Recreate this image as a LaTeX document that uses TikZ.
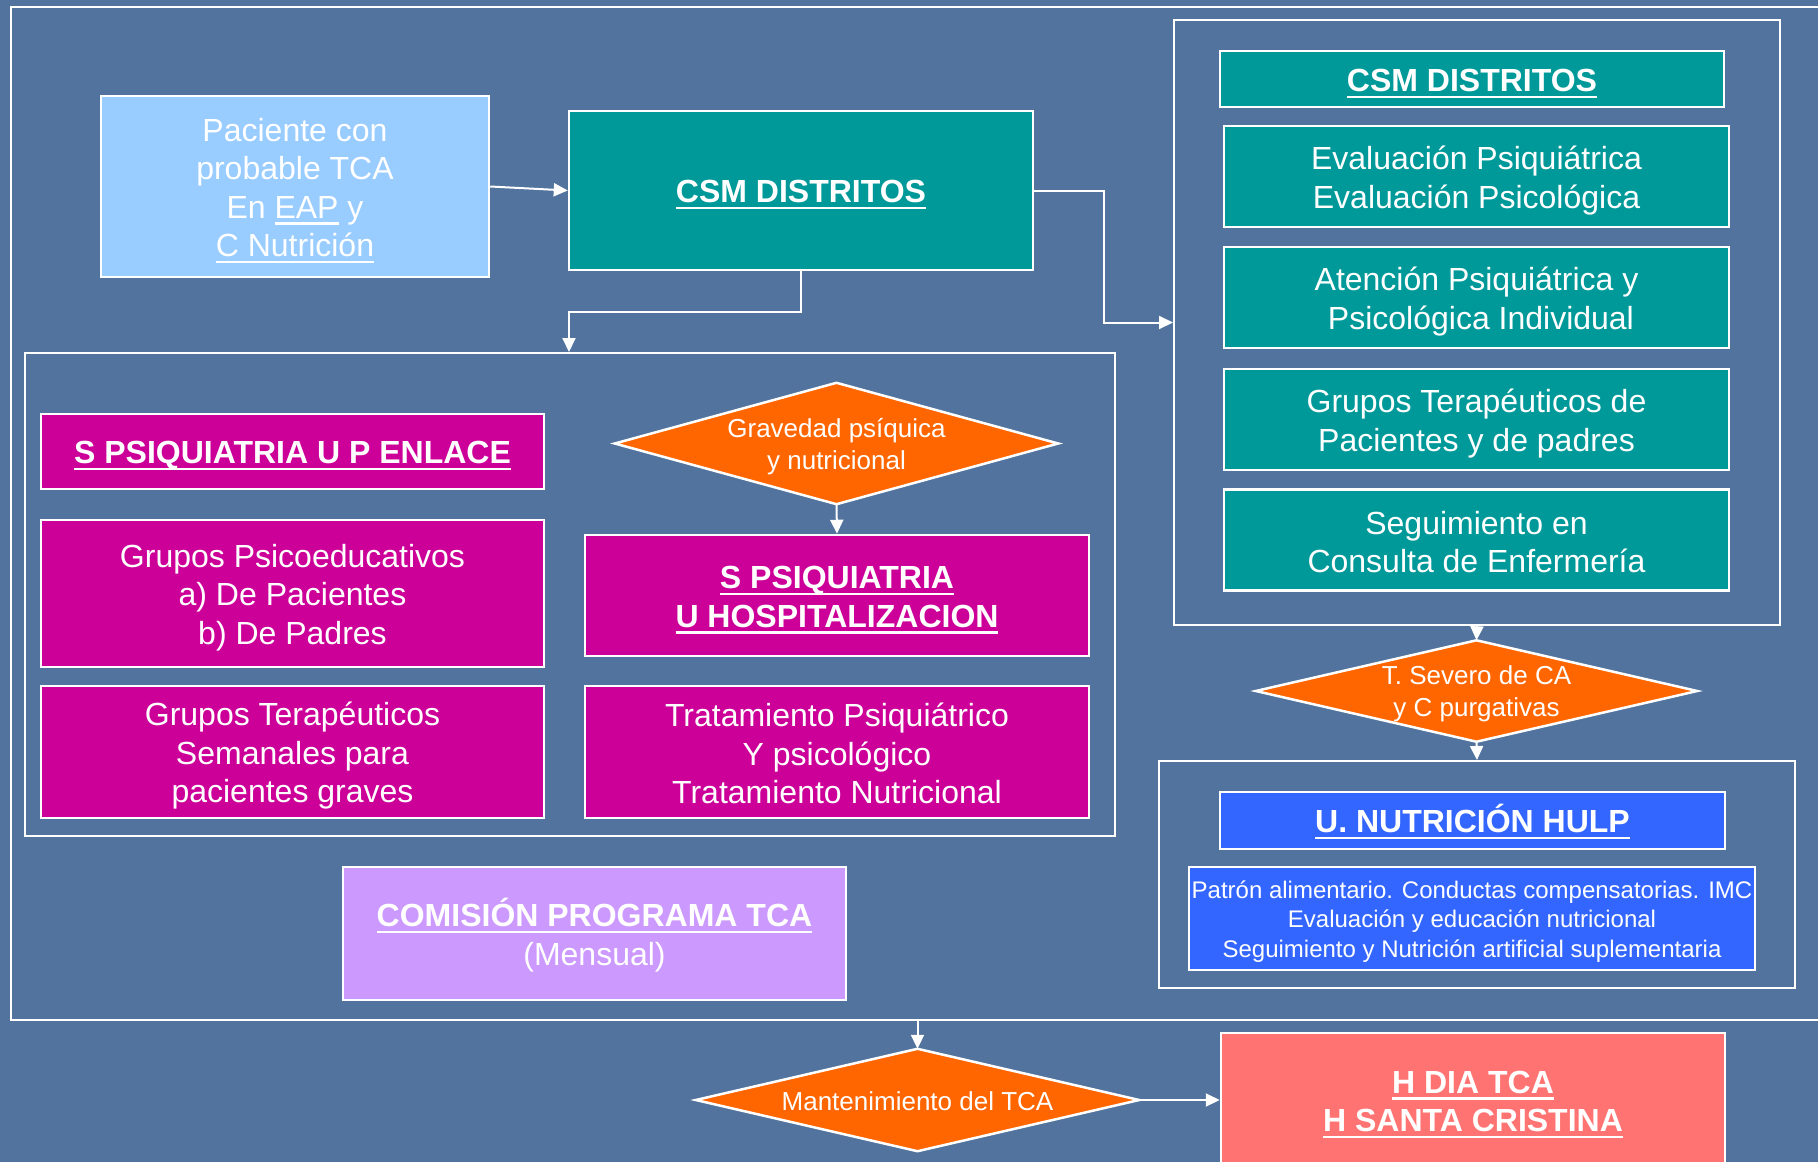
\documentclass[tikz,border=0pt]{standalone}
\usepackage{fontspec}
\setmainfont{Liberation Sans}
\usetikzlibrary{arrows.meta,calc}
\definecolor{bg}{RGB}{81,115,157}
\definecolor{teal1}{HTML}{009999}
\definecolor{mag}{HTML}{CC0099}
\definecolor{orng}{HTML}{FF6600}
\definecolor{lblue}{HTML}{99CCFF}
\definecolor{lilac}{HTML}{CC99FF}
\definecolor{blu}{HTML}{3366FF}
\definecolor{salmon}{HTML}{FF7373}
\pgfdeclarelayer{dialayer}
\pgfsetlayers{dialayer,main}
\newcommand\myul[1]{\leavevmode\setbox0\hbox{#1}\rlap{\rule[-0.2em]{\wd0}{0.07em}}\box0{}}
\newcommand\st{\rule[-0.142em]{0pt}{1.117em}}
\newcommand\ls{\\\st}
\newcommand\drawdia[1]{\begin{pgfonlayer}{dialayer}\filldraw[draw=white,line width=2.5pt,fill=orng] (#1.north) -- (#1.east) -- (#1.south) -- (#1.west) -- cycle;\end{pgfonlayer}}
\begin{document}
\begin{tikzpicture}[x=1pt,y=-1pt,
 box/.style={draw=white, line width=2.5pt, rectangle, inner sep=0pt, text=white, align=center, font=\fontsize{32}{38.5}\selectfont},
 grp/.style={draw=white, line width=2pt, rectangle, inner sep=0pt},
 dia/.style={rectangle, inner sep=0pt, text=white, align=center, font=\fontsize{26}{32}\selectfont},
 arr/.style={draw=white, line width=2pt, -{Triangle[length=14pt,width=13pt]}},
]
\begin{pgfonlayer}{dialayer}
\fill[bg] (0,0) rectangle (1818,1162);
\end{pgfonlayer}
\useasboundingbox (0,0) rectangle (1818,1162);

% outer frame
\node[grp, minimum width=1820pt, minimum height=1013pt, anchor=north west] (outer) at (10,6) {};

% top left
\node[box, fill=lblue, minimum width=388pt, minimum height=181pt] (pac) at (295,186.5)
  {\st Paciente con\ls probable TCA\ls En \myul{EAP} y\ls \myul{C Nutrición}};
\node[box, fill=teal1, minimum width=464pt, minimum height=159pt] (csm) at (801,190.5)
  {\st\bfseries\myul{CSM DISTRITOS}};

% right group
\node[grp, minimum width=606pt, minimum height=605pt] (rgroup) at (1477,322.5) {};
\node[box, fill=teal1, minimum width=504pt, minimum height=56pt] (rhead) at (1472,79)
  {\st\bfseries\myul{CSM DISTRITOS}};
\node[box, fill=teal1, minimum width=505pt, minimum height=101pt] (r1) at (1476.5,176.5)
  {\st Evaluación Psiquiátrica\ls Evaluación Psicológica};
\node[box, fill=teal1, minimum width=505pt, minimum height=101pt] (r2) at (1476.5,297.5)
  {\st Atención Psiquiátrica y\ls\ Psicológica Individual};
\node[box, fill=teal1, minimum width=505pt, minimum height=101pt] (r3) at (1476.5,419.5)
  {\st Grupos Terapéuticos de\ls Pacientes y de padres};
\node[box, fill=teal1, minimum width=505pt, minimum height=101pt] (r4) at (1476.5,540)
  {\st Seguimiento en\ls Consulta de Enfermería};

\node[dia, minimum width=441pt, minimum height=101pt] (dsev) at (1476.5,691)
  {\st T. Severo de CA\ls y C purgativas};
\drawdia{dsev}

% nutrition group
\node[grp, minimum width=636pt, minimum height=227pt] (ngroup) at (1477,874.5) {};
\node[box, fill=blu, minimum width=505pt, minimum height=57pt] (nhead) at (1472.5,820.5)
  {\st\bfseries\myul{U. NUTRICIÓN HULP}};
\node[box, fill=blu, minimum width=566pt, minimum height=103pt, font=\fontsize{24}{28}\selectfont] (nbody) at (1472,918.5)
  {\st Patrón alimentario. Conductas compensatorias. IMC\ls Evaluación y educación nutricional\ls Seguimiento y Nutrición artificial suplementaria};

% left group
\node[grp, minimum width=1090pt, minimum height=483pt] (lgroup) at (570,594.5) {};
\node[box, fill=mag, minimum width=503pt, minimum height=75pt] (enlace) at (292.5,451.5)
  {\st\bfseries\myul{S PSIQUIATRIA U P ENLACE}};
\node[box, fill=mag, minimum width=503pt, minimum height=147pt] (psico) at (292.5,593.5)
  {\st Grupos Psicoeducativos\ls a) De Pacientes\ls b) De Padres};
\node[box, fill=mag, minimum width=503pt, minimum height=132pt] (seman) at (292.5,752)
  {\st Grupos Terapéuticos\ls Semanales para\ls pacientes graves};
\node[dia, minimum width=443pt, minimum height=121pt] (dgrav) at (836.5,443.5)
  {\st Gravedad psíquica\ls y nutricional};
\drawdia{dgrav}
\node[box, fill=mag, minimum width=504pt, minimum height=121pt] (hosp) at (837,595.5)
  {\st\bfseries\myul{S PSIQUIATRIA}\ls\bfseries\myul{U HOSPITALIZACION}};
\node[box, fill=mag, minimum width=504pt, minimum height=132pt] (trat) at (837,752)
  {\st Tratamiento Psiquiátrico\ls Y psicológico\ls Tratamiento Nutricional};

% bottom
\node[box, fill=lilac, minimum width=503pt, minimum height=133pt] (comis) at (594.5,933.5)
  {\st\myul{\bfseries COMISIÓN PROGRAMA TCA}\ls (Mensual)};
\node[dia, minimum width=443pt, minimum height=102pt] (dmant) at (917.5,1100)
  {\st Mantenimiento del TCA};
\drawdia{dmant}
\node[box, fill=salmon, minimum width=504pt, minimum height=134pt] (hdia) at (1473,1100)
  {\st\bfseries\myul{H DIA TCA}\ls\bfseries\myul{H SANTA CRISTINA}};

% connectors
\draw[arr] (pac.east) -- (csm.west);
\coordinate (j1) at (569,312);
\draw[arr] (csm.south) |- (j1) -- (j1 |- lgroup.north);
\draw[arr] (csm.east) -- ++(70,0) |- (rgroup.west);
\draw[arr] (rgroup.south) -- (dsev.north);
\draw[arr] (dsev.south) -- (ngroup.north);
\draw[arr] (dgrav.south) -- (hosp.north);
\draw[arr] (outer.south -| dmant.north) -- (dmant.north);
\draw[arr] (dmant.east) -- (hdia.west);
\end{tikzpicture}
\end{document}
